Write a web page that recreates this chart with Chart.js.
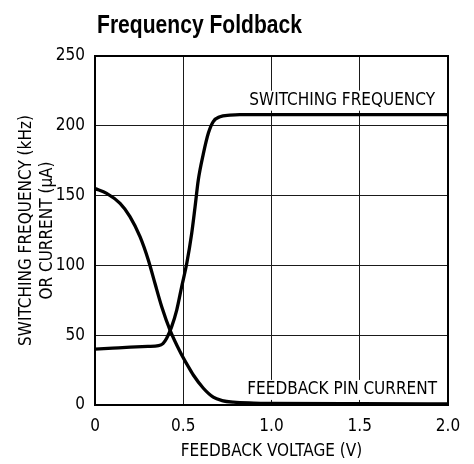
<!DOCTYPE html>
<html>
<head>
<meta charset="utf-8">
<script src="https://cdn.jsdelivr.net/npm/chart.js@4"></script>
<style>
  html, body { margin: 0; padding: 0; background: #fff; }
</style>
</head>
<body>
<canvas id="chart" width="474" height="464"></canvas>
<script>
// --- data ---
const chartTitle = 'Frequency Foldback';
const xTitle = 'FEEDBACK VOLTAGE (V)';
const yTitleLines = ['SWITCHING FREQUENCY (kHz)', 'OR CURRENT (µA)'];
const seriesNames = ['SWITCHING FREQUENCY', 'FEEDBACK PIN CURRENT'];
const xTickValues = [0, 0.5, 1.0, 1.5, 2.0];
const xTickLabels = ['0', '0.5', '1.0', '1.5', '2.0'];
const yTickValues = [0, 50, 100, 150, 200, 250];

// switching frequency (kHz) vs feedback voltage (V)
const freqVolts = [0, 0.1, 0.2, 0.3, 0.36, 0.385, 0.406, 0.434, 0.463, 0.491, 0.52, 0.548, 0.567, 0.585, 0.614, 0.642, 0.67, 0.708, 0.765, 0.82, 1.0, 1.5, 2.0];
const freqKHz   = [40, 40.7, 41.4, 42.0, 42.5, 44, 47.8, 56, 68, 84.7, 101.5, 123, 142, 161, 180, 194.6, 203, 206.5, 207.6, 208, 208, 208, 208];

// feedback pin current (µA) vs feedback voltage (V)
const currVolts = [0, 0.066, 0.142, 0.198, 0.255, 0.302, 0.34, 0.378, 0.425, 0.482, 0.529, 0.557, 0.614, 0.67, 0.72, 0.784, 0.9, 1.0, 1.5, 2.0];
const currUA    = [155, 151.6, 144.4, 135, 120.6, 103.9, 87, 70.4, 53.7, 38.2, 27.4, 21.5, 12, 5.6, 3.2, 2.0, 1.4, 1.2, 0.9, 0.8];

const FONT = '"DejaVu Sans Condensed", "Liberation Sans Narrow", sans-serif';
const TITLE_FONT = '"Liberation Sans", Arial, sans-serif';

function toPoints(xs, ys) {
    return xs.map((x, i) => ({ x: x, y: ys[i] }));
}

// ---- labels, titles drawn on the canvas ----
const decorPlugin = {
    id: 'decor',
    beforeDatasetsDraw(chart) {
        const ctx = chart.ctx;
        const ys = chart.scales.y;
        ctx.save();
        ctx.font = '17px ' + FONT;
        ctx.textBaseline = 'middle';
        ctx.textAlign = 'right';
        // curve labels sit on a white patch that breaks the grid
        const labels = [
            { text: seriesNames[0], x: 435, y: ys.getPixelForValue(218) },
            { text: seriesNames[1], x: 437, y: ys.getPixelForValue(10.8) }
        ];
        labels.forEach(l => {
            const w = ctx.measureText(l.text).width;
            ctx.fillStyle = '#fff';
            ctx.fillRect(l.x - w - 4, l.y - 10, w + 8, 20);
            ctx.fillStyle = '#000';
            ctx.fillText(l.text, l.x, l.y);
        });
        ctx.restore();
    },
    afterDraw(chart) {
        const ctx = chart.ctx;
        const area = chart.chartArea;
        ctx.save();
        ctx.fillStyle = '#000';
        // title (squeezed to look like a condensed face)
        ctx.save();
        ctx.font = 'bold 26px ' + TITLE_FONT;
        ctx.textAlign = 'left';
        ctx.textBaseline = 'alphabetic';
        const tw = ctx.measureText(chartTitle).width;
        ctx.translate(97, 33);
        ctx.scale(205 / tw, 1);
        ctx.fillText(chartTitle, 0, 0);
        ctx.restore();
        // x axis title
        ctx.font = '17px ' + FONT;
        ctx.textAlign = 'center';
        ctx.textBaseline = 'middle';
        ctx.fillText(xTitle, (area.left + area.right) / 2, 452);
        // y axis title, two rotated lines
        const cy = (area.top + area.bottom) / 2;
        [27, 48].forEach((x, i) => {
            ctx.save();
            ctx.translate(x, cy);
            ctx.rotate(-Math.PI / 2);
            ctx.fillText(yTitleLines[i], 0, 0);
            ctx.restore();
        });
        ctx.restore();
    }
};

new Chart(document.getElementById('chart'), {
    type: 'line',
    data: {
        datasets: [
            {
                label: seriesNames[0],
                data: toPoints(freqVolts, freqKHz),
                borderColor: '#000',
                borderWidth: 3.3,
                pointRadius: 0,
                cubicInterpolationMode: 'monotone',
                fill: false
            },
            {
                label: seriesNames[1],
                data: toPoints(currVolts, currUA),
                borderColor: '#000',
                borderWidth: 3.3,
                pointRadius: 0,
                cubicInterpolationMode: 'monotone',
                fill: false
            }
        ]
    },
    options: {
        responsive: false,
        animation: false,
        devicePixelRatio: 1,
        layout: { padding: { top: 56, right: 26, left: 0, bottom: 0 } },
        plugins: {
            legend: { display: false },
            tooltip: { enabled: false },
            title: { display: false }
        },
        scales: {
            x: {
                type: 'linear',
                min: 0,
                max: 2,
                afterFit: s => { s.height = 59; },
                afterBuildTicks: s => { s.ticks = xTickValues.map(v => ({ value: v })); },
                ticks: {
                    color: '#000',
                    font: { family: FONT, size: 17 },
                    padding: 11,
                    maxRotation: 0,
                    callback: (v) => xTickLabels[xTickValues.indexOf(v)]
                },
                grid: { color: '#1a1a1a', lineWidth: 1, drawTicks: false },
                border: { color: '#000', width: 2 }
            },
            y: {
                type: 'linear',
                min: 0,
                max: 250,
                afterFit: s => { s.width = 95; },
                afterBuildTicks: s => { s.ticks = yTickValues.map(v => ({ value: v })); },
                ticks: {
                    color: '#000',
                    font: { family: FONT, size: 17 },
                    padding: 10,
                    callback: v => String(v)
                },
                grid: { color: '#1a1a1a', lineWidth: 1, drawTicks: false },
                border: { color: '#000', width: 2 }
            }
        }
    },
    plugins: [decorPlugin, {
        id: 'frame',
        beforeDatasetsDraw(chart) {
            // top and right edges of the plot frame
            const { ctx, chartArea: a } = chart;
            ctx.save();
            ctx.strokeStyle = '#000';
            ctx.lineWidth = 2;
            ctx.beginPath();
            ctx.moveTo(a.left, a.top);
            ctx.lineTo(a.right, a.top);
            ctx.lineTo(a.right, a.bottom);
            ctx.stroke();
            ctx.restore();
        }
    }]
});
</script>
</body>
</html>
